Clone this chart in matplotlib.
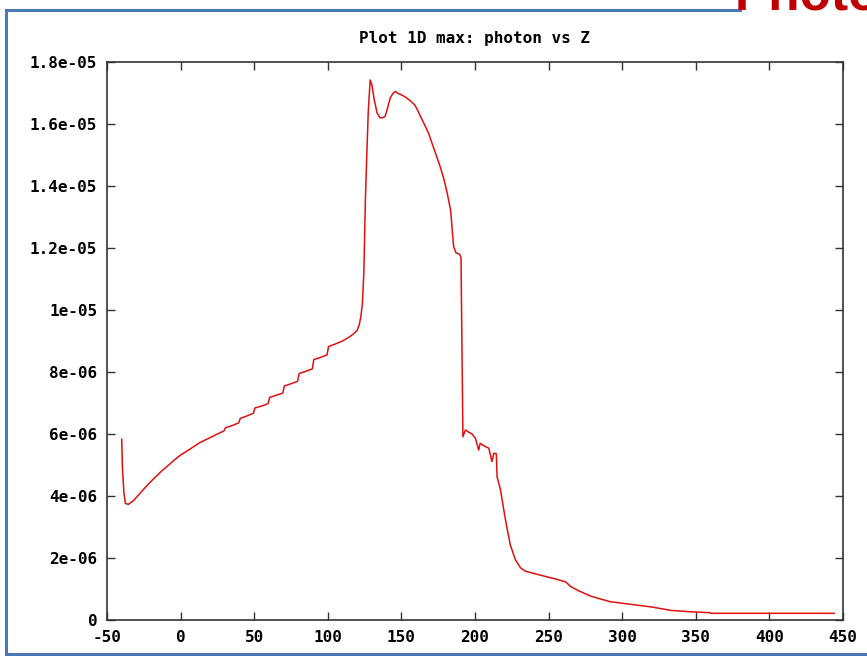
import numpy as np
import matplotlib
matplotlib.use("Agg")
import matplotlib.pyplot as plt
from matplotlib.lines import Line2D


# z position and max photon value (in units of 1e-6)
z = [-40, -39.5, -38.5, -37.5, -35.5, -32, -27.5, -22, -18, -13, -9, -4, 0, 5, 13,
     20, 25, 29.5, 30.5, 35, 39.5, 40.5, 45, 49.5, 50.5, 55, 59.5, 60.5, 65, 69.5,
     70.5, 75, 79.5, 80.5, 85, 89.5, 90.5, 95, 99.5, 100.5, 105, 110, 115, 118, 120,
     121.5, 122.5, 123.5, 124.5, 125.5, 126.5, 127.5, 128.8, 130, 131.5, 133.5, 135.5,
     137, 139, 140.5, 142.5, 144.5, 146, 148, 150, 153, 156, 159, 161, 163, 165.5,
     168.5, 171, 174, 176.5, 179, 181, 183.5, 184.5, 185.5, 187, 189.5, 190.5, 191.8,
     193.5, 196, 198, 200.3, 202.5, 203.5, 206, 209.4, 211.5, 212.8, 214.5, 215, 217.3,
     220.7, 224, 227.5, 231, 234, 240, 250, 255, 261.6, 265, 270, 278.6, 285, 292, 300,
     310, 320, 333, 345, 359.5, 360.5, 380, 400, 420, 444]
photon = [5.83, 4.9, 4.1, 3.76, 3.73, 3.85, 4.09, 4.38, 4.57, 4.8, 4.96, 5.17, 5.32, 5.47, 5.72,
          5.88, 6.0, 6.1, 6.2, 6.27, 6.36, 6.5, 6.58, 6.67, 6.84, 6.9, 6.98, 7.18, 7.25, 7.32,
          7.55, 7.62, 7.7, 7.95, 8.02, 8.1, 8.4, 8.47, 8.55, 8.82, 8.9, 9.0, 9.14, 9.25, 9.35,
          9.55, 9.8, 10.2, 11.2, 13.5, 15.0, 16.4, 17.42, 17.25, 16.8, 16.35, 16.2,
          16.2, 16.25, 16.5, 16.85, 17.0, 17.05, 16.98, 16.94, 16.86, 16.75, 16.62, 16.45, 16.24, 16.0,
          15.7, 15.35, 14.95, 14.6, 14.2, 13.8, 13.2, 12.6, 12.05, 11.85, 11.8, 11.7, 5.91,
          6.13, 6.05, 6.0, 5.86, 5.48, 5.7, 5.62, 5.54, 5.11, 5.38, 5.36, 4.62, 4.2,
          3.23, 2.42, 1.94, 1.68, 1.58, 1.5, 1.38, 1.32, 1.23, 1.08, 0.95, 0.77, 0.68, 0.59, 0.54,
          0.48, 0.42, 0.31, 0.27, 0.235, 0.215, 0.215, 0.215, 0.215, 0.215]

xticks = [-50, 0, 50, 100, 150, 200, 250, 300, 350, 400, 450]
yticks = [0, 2e-6, 4e-6, 6e-6, 8e-6, 1e-5, 1.2e-5, 1.4e-5, 1.6e-5, 1.8e-5]
ylabels = ["0", "2e-06", "4e-06", "6e-06", "8e-06", "1e-05",
           "1.2e-05", "1.4e-05", "1.6e-05", "1.8e-05"]

mono = {"family": "DejaVu Sans Mono", "weight": "bold", "size": 11.5}

fig = plt.figure(figsize=(8.67, 6.56), dpi=100)
ax = fig.add_axes([0.1234, 0.0549, 0.8489, 0.8506])

ax.plot(z, np.array(photon) * 1e-6, color="#e01010", lw=1.1)

ax.set_xlim(-50, 450)
ax.set_ylim(0, 1.8e-5)
ax.set_xticks(xticks)
ax.set_xticklabels([str(t) for t in xticks], fontdict=mono)
ax.set_yticks(yticks)
ax.set_yticklabels(ylabels, fontdict=mono)
ax.tick_params(direction="in", length=6, width=1, color="#333333",
               top=True, right=True, pad=7)
for s in ax.spines.values():
    s.set_color("#333333")
    s.set_linewidth(1.2)

ax.set_title("Plot 1D max: photon vs Z", fontdict=mono, pad=14)

# slide frame around the picture
blue = "#4a78b8"
fig.add_artist(Line2D([6 / 867, 6 / 867], [1 - 10 / 656, 1 - 654 / 656],
                      color=blue, lw=2.2, transform=fig.transFigure))
fig.add_artist(Line2D([6 / 867, 740 / 867], [1 - 10 / 656, 1 - 10 / 656],
                      color=blue, lw=2.2, transform=fig.transFigure))
fig.add_artist(Line2D([6 / 867, 1.0], [1 - 654 / 656, 1 - 654 / 656],
                      color=blue, lw=2.2, transform=fig.transFigure))
fig.text(735 / 867, 1 - 10 / 656, "Photon", color="#c00000", fontsize=37,
         fontweight="bold", family="Liberation Sans", va="baseline", ha="left")

fig.savefig("out.png", dpi=100)
